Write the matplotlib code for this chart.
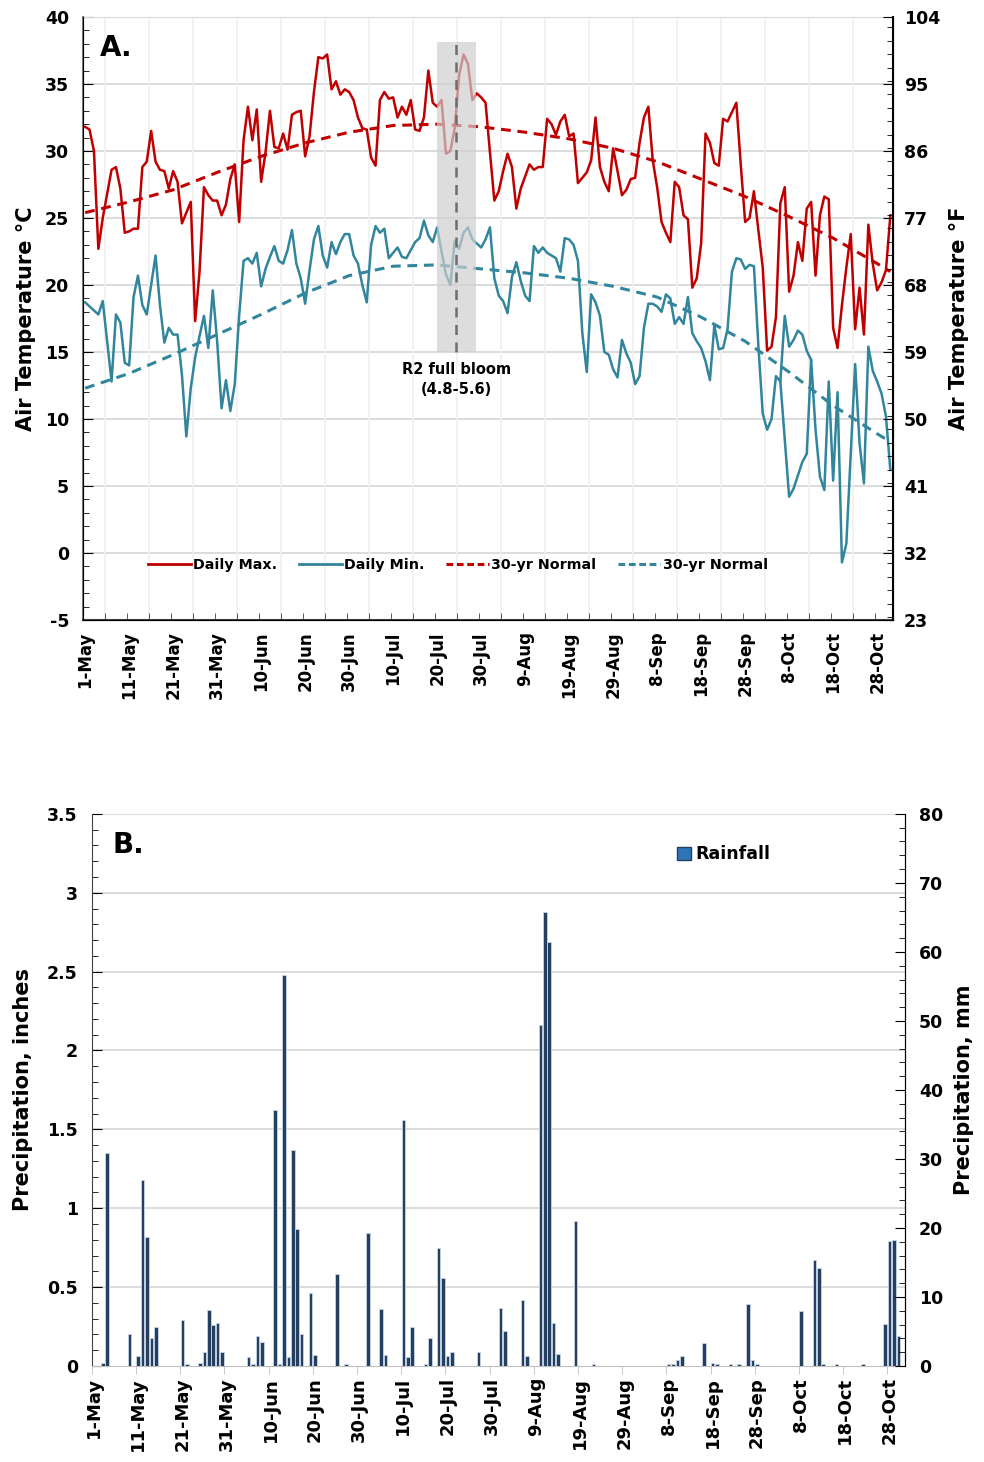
import matplotlib
matplotlib.use("Agg")
import matplotlib.pyplot as plt
import numpy as np
from matplotlib.lines import Line2D
from matplotlib.patches import Rectangle, Patch
from matplotlib.ticker import MultipleLocator, FixedLocator

plt.rcParams['font.family'] = ['DejaVu Sans']
plt.rcParams['font.weight'] = 'bold'
plt.rcParams['axes.unicode_minus'] = False

# day 0 = 1-May ... day 183 = 31-Oct
date_labels = ['1-May', '11-May', '21-May', '31-May', '10-Jun', '20-Jun', '30-Jun',
               '10-Jul', '20-Jul', '30-Jul', '9-Aug', '19-Aug', '29-Aug', '8-Sep',
               '18-Sep', '28-Sep', '8-Oct', '18-Oct', '28-Oct']

t_max = [31.8, 31.6, 30.0, 22.7, 25.0, 26.8, 28.6, 28.8, 27.2, 23.9,
         24.0, 24.2, 24.2, 28.8, 29.2, 31.5, 29.2, 28.6, 28.5, 27.2,
         28.5, 27.7, 24.6, 25.4, 26.2, 17.3, 21.0, 27.3, 26.7, 26.3,
         26.3, 25.2, 26.0, 27.9, 29.0, 24.7, 30.8, 33.3, 30.8, 33.1,
         27.7, 29.9, 33.0, 30.3, 30.2, 31.3, 30.1, 32.7, 32.9, 33.0,
         29.6, 31.1, 34.4, 37.0, 36.9, 37.2, 34.6, 35.2, 34.2, 34.6,
         34.4, 33.8, 32.5, 31.7, 31.6, 29.5, 28.9, 33.8, 34.4, 33.9,
         34.0, 32.5, 33.3, 32.7, 33.8, 31.6, 31.5, 32.5, 36.0, 33.6,
         33.3, 33.8, 29.8, 30.0, 31.7, 35.7, 37.2, 36.5, 33.8, 34.3,
         34.0, 33.6, 29.9, 26.3, 27.0, 28.5, 29.8, 28.8, 25.7, 27.2,
         28.1, 29.0, 28.6, 28.8, 28.8, 32.4, 32.0, 31.2, 32.2, 32.7,
         31.1, 31.3, 27.6, 28.0, 28.4, 29.3, 32.5, 28.8, 27.7, 27.0,
         30.2, 28.5, 26.7, 27.1, 27.9, 28.0, 30.6, 32.5, 33.3, 29.3,
         27.3, 24.7, 23.9, 23.2, 27.7, 27.3, 25.2, 24.9, 19.8, 20.5,
         23.1, 31.3, 30.6, 29.1, 28.9, 32.4, 32.2, 32.9, 33.6, 29.0,
         24.7, 25.0, 27.0, 24.1, 21.3, 15.1, 15.4, 17.6, 26.1, 27.3,
         19.5, 20.7, 23.2, 21.8, 25.7, 26.2, 20.7, 25.2, 26.6, 26.4,
         16.8, 15.3, 18.5, 21.3, 23.8, 16.7, 19.8, 16.3, 24.5, 21.6,
         19.6, 20.2, 21.1, 25.2]

t_min = [18.7, 18.4, 18.1, 17.8, 18.8, 15.8, 12.8, 17.8, 17.2, 14.2,
         14.0, 19.1, 20.7, 18.5, 17.8, 20.0, 22.2, 18.5, 15.7, 16.8,
         16.3, 16.3, 13.3, 8.7, 12.3, 14.6, 16.2, 17.7, 15.3, 19.6,
         15.8, 10.8, 12.9, 10.6, 12.6, 17.7, 21.8, 22.0, 21.6, 22.4,
         19.9, 21.2, 22.1, 22.9, 21.8, 21.6, 22.6, 24.1, 21.6, 20.5,
         18.6, 21.1, 23.4, 24.4, 22.2, 21.3, 23.2, 22.3, 23.2, 23.8,
         23.8, 22.2, 21.6, 20.0, 18.7, 23.0, 24.4, 23.9, 24.2, 22.0,
         22.4, 22.8, 22.1, 22.0, 22.6, 23.2, 23.5, 24.8, 23.7, 23.2,
         24.3, 22.5, 20.8, 20.0, 23.3, 22.7, 23.9, 24.3, 23.4, 23.1,
         22.8, 23.4, 24.3, 20.5, 19.2, 18.8, 17.9, 20.6, 21.7, 20.3,
         19.2, 18.8, 22.9, 22.4, 22.8, 22.4, 22.2, 22.0, 21.0, 23.5,
         23.4, 23.0, 21.8, 16.4, 13.5, 19.3, 18.7, 17.7, 15.0, 14.8,
         13.7, 13.1, 15.9, 14.9, 14.2, 12.6, 13.2, 16.8, 18.6, 18.6,
         18.4, 18.0, 19.3, 19.0, 17.1, 17.6, 17.1, 19.1, 16.4, 15.8,
         15.3, 14.3, 12.9, 17.0, 15.2, 15.3, 16.7, 21.0, 22.0, 21.9,
         21.2, 21.5, 21.4, 15.5, 10.4, 9.2, 10.0, 13.2, 12.8, 8.5,
         4.2, 4.8, 5.8, 6.8, 7.4, 14.4, 9.2, 5.7, 4.7, 12.8,
         5.4, 12.0, -0.7, 0.7, 7.4, 14.1, 8.2, 5.2, 15.4, 13.6,
         12.8, 11.9, 10.2, 6.2]

# second daily-min trace that splits off in early October
t_min_alt_days = [158, 159, 160, 161, 162, 163, 164, 165]
t_min_alt = [12.8, 17.7, 15.4, 15.9, 16.6, 16.3, 15.1, 14.4]

# 30-yr normals, read every 10 days
normal_days = [0, 10, 20, 30, 40, 50, 60, 70, 80, 90, 100, 110, 120, 130, 140, 150, 160, 170, 180, 183]
normal_max = [25.4, 26.2, 27.1, 28.4, 29.6, 30.6, 31.4, 31.9, 32.0, 31.8,
              31.4, 30.9, 30.2, 29.2, 27.9, 26.6, 25.1, 23.5, 21.6, 21.0]
normal_min = [12.3, 13.4, 14.8, 16.3, 17.8, 19.4, 20.7, 21.4, 21.5, 21.2,
              20.9, 20.5, 19.9, 19.1, 17.6, 15.8, 13.5, 11.0, 8.9, 8.3]

# rainfall (inches) on days with rain
rain_days = [2, 3, 8, 10, 11, 12, 13, 14, 20, 21, 24, 25, 26, 27, 28, 29, 35, 36, 37, 38,
             41, 42, 43, 44, 45, 46, 47, 49, 50, 55, 57, 62, 65, 66, 70, 71, 72, 75, 76, 78,
             79, 80, 81, 87, 92, 93, 97, 98, 101, 102, 103, 104, 105, 109, 113, 130, 131, 132, 133, 138,
             140, 141, 144, 146, 148, 149, 150, 160, 163, 164, 165, 168, 174, 179, 180, 181, 182]
rain_in = [0.02, 1.35, 0.20, 0.06, 1.18, 0.82, 0.18, 0.25, 0.29, 0.01, 0.02, 0.09, 0.355, 0.26, 0.27, 0.09, 0.055, 0.01, 0.19, 0.15,
           1.62, 0.01, 2.48, 0.055, 1.37, 0.87, 0.20, 0.465, 0.07, 0.58, 0.01, 0.845, 0.36, 0.07, 1.56, 0.055, 0.25, 0.01, 0.175, 0.75,
           0.56, 0.065, 0.09, 0.09, 0.37, 0.22, 0.42, 0.065, 2.16, 2.88, 2.69, 0.27, 0.075, 0.92, 0.01, 0.01, 0.01, 0.04, 0.065, 0.145,
           0.02, 0.01, 0.01, 0.01, 0.39, 0.04, 0.01, 0.35, 0.67, 0.62, 0.01, 0.01, 0.01, 0.265, 0.79, 0.80, 0.19]

bloom_start, bloom_end, bloom_day = 80, 88.9, 84.3

RED = '#C00000'
TEAL = '#31859C'
GRID = '#D9D9D9'

days = np.arange(len(t_max))
rain = np.zeros(len(t_max))
rain[rain_days] = rain_in

fig = plt.figure(figsize=(9.84, 14.62), dpi=100)

# ---------------- panel A ----------------
ax1 = fig.add_axes([0.0843, 0.5759, 0.8232, 0.4125])
ax1.set_xlim(-0.5, 183.6)
ax1.set_ylim(-5, 40)
for y in range(-5, 41, 5):
    ax1.axhline(y, color=GRID, lw=1.3, zorder=0)
for x in np.arange(4.5, 184, 10):
    ax1.axvline(x, color='#F0F0F0', lw=1.2, zorder=0)

ax1.plot(days, t_max, color=RED, lw=1.8, zorder=3)
ax1.plot(days, t_min, color=TEAL, lw=1.8, zorder=3)
ax1.plot(t_min_alt_days, t_min_alt, color=TEAL, lw=1.8, zorder=3)
ax1.plot(normal_days, normal_max, color=RED, lw=2.2, ls=(0, (3.2, 2.2)), zorder=3)
ax1.plot(normal_days, normal_min, color=TEAL, lw=2.2, ls=(0, (3.2, 2.2)), zorder=3)

ax1.add_patch(Rectangle((bloom_start, 15), bloom_end - bloom_start, 23.1,
                        facecolor='#CFCFCF', alpha=0.7, edgecolor='none', zorder=5))
ax1.plot([bloom_day, bloom_day], [15, 38.1], color='#6E6E6E', lw=1.8, ls=(0, (4, 3)), zorder=6)
ax1.text(bloom_day, 13.7, 'R2 full bloom', ha='center', va='center', fontsize=10.5, fontweight='bold')
ax1.text(bloom_day, 12.2, '(4.8-5.6)', ha='center', va='center', fontsize=10.5, fontweight='bold')
ax1.text(0.021, 0.949, 'A.', transform=ax1.transAxes, fontsize=20, fontweight='heavy', va='center', ha='left')

ax1.set_yticks(range(-5, 41, 5))
ax1.yaxis.set_minor_locator(MultipleLocator(1))
ax1.set_xticks(range(0, 184, 10))
ax1.set_xticklabels(date_labels, rotation=90, fontsize=12, fontweight='bold')
ax1.xaxis.set_minor_locator(FixedLocator(np.arange(4.5, 184, 5)))
ax1.tick_params(axis='x', which='major', length=0, pad=8)
ax1.tick_params(axis='x', which='minor', direction='in', length=5, color='#404040')
ax1.tick_params(axis='y', which='major', direction='in', length=7, labelsize=12.5, pad=10)
ax1.tick_params(axis='y', which='minor', direction='in', length=4)
for lab in ax1.get_yticklabels():
    lab.set_fontweight('bold')
ax1.set_ylabel('Air Temperature \u00b0C', fontsize=15, fontweight='bold', labelpad=6)
ax1.spines['top'].set_color(GRID)
ax1.spines['left'].set_color('#7F7F7F')
ax1.spines['bottom'].set_color('#404040')
ax1.spines['left'].set_linewidth(1.5)
ax1.spines['bottom'].set_linewidth(1.5)

ax1r = ax1.twinx()
ax1r.set_ylim(23, 104)
ax1r.set_yticks(range(23, 105, 9))
ax1r.yaxis.set_minor_locator(MultipleLocator(1.8))
ax1r.tick_params(axis='y', which='major', direction='in', length=7, labelsize=12.5, pad=8)
ax1r.tick_params(axis='y', which='minor', direction='in', length=4)
for lab in ax1r.get_yticklabels():
    lab.set_fontweight('bold')
ax1r.set_ylabel('Air Temperature \u00b0F', fontsize=15, fontweight='bold', labelpad=6)
ax1r.spines['right'].set_linewidth(1.5)
ax1r.spines['top'].set_visible(False)

handles = [Line2D([], [], color=RED, lw=2),
           Line2D([], [], color=TEAL, lw=2),
           Line2D([], [], color=RED, lw=2.2, ls=(0, (2.2, 1.2))),
           Line2D([], [], color=TEAL, lw=2.2, ls=(0, (2.2, 1.2)))]
ax1.legend(handles, ['Daily Max.', 'Daily Min.', '30-yr Normal', '30-yr Normal'],
           loc='center', bbox_to_anchor=(0.463, 0.091), ncol=4, frameon=False,
           handlelength=3.0, handletextpad=0.15, columnspacing=1.5,
           prop={'weight': 'bold', 'size': 10.3})

# ---------------- panel B ----------------
ax2 = fig.add_axes([0.0932, 0.0657, 0.8265, 0.3776])
ax2.set_xlim(-0.5, 183.5)
ax2.set_ylim(0, 3.5)
for y in np.arange(0.5, 3.51, 0.5):
    ax2.axhline(y, color=GRID, lw=1.3, zorder=0)
ax2.bar(days, rain, width=0.8, color='#243F60', edgecolor='#C9D6E6', linewidth=0.6, zorder=3,
        label='Rainfall')
ax2.text(0.025, 0.944, 'B.', transform=ax2.transAxes, fontsize=20, fontweight='heavy', va='center', ha='left')
ax2.legend(handles=[Patch(facecolor='#2E75B6', edgecolor='#243F60', label='Rainfall')],
           loc='center left', bbox_to_anchor=(0.7, 0.927), frameon=False,
           handlelength=0.8, handleheight=0.8, handletextpad=0.3,
           prop={'weight': 'bold', 'size': 12.5})

ax2.set_yticks(np.arange(0, 3.51, 0.5))
ax2.set_yticklabels(['0', '0.5', '1', '1.5', '2', '2.5', '3', '3.5'])
ax2.yaxis.set_minor_locator(MultipleLocator(0.1))
ax2.set_xticks(range(0, 184, 10))
ax2.set_xticklabels(date_labels, rotation=90, fontsize=13, fontweight='bold')
ax2.xaxis.set_minor_locator(FixedLocator(np.arange(-0.5, 184, 10)))
ax2.tick_params(axis='x', which='major', length=0, pad=8)
ax2.tick_params(axis='x', which='minor', direction='out', length=6, color='#BFBFBF')
ax2.tick_params(axis='y', which='major', direction='in', length=7, labelsize=12.5, pad=10)
ax2.tick_params(axis='y', which='minor', direction='in', length=4)
for lab in ax2.get_yticklabels():
    lab.set_fontweight('bold')
ax2.set_ylabel('Precipitation, inches', fontsize=15, fontweight='bold', labelpad=10)
ax2.spines['top'].set_visible(False)
ax2.spines['bottom'].set_color('#BFBFBF')
ax2.spines['left'].set_color('#404040')

ax2r = ax2.twinx()
ax2r.set_ylim(0, 80)
ax2r.set_yticks(range(0, 81, 10))
ax2r.yaxis.set_minor_locator(MultipleLocator(2))
ax2r.tick_params(axis='y', which='major', direction='in', length=7, labelsize=12.5, pad=10)
ax2r.tick_params(axis='y', which='minor', direction='in', length=4)
for lab in ax2r.get_yticklabels():
    lab.set_fontweight('bold')
ax2r.set_ylabel('Precipitation, mm', fontsize=15, fontweight='bold', labelpad=8)
ax2r.spines['top'].set_visible(False)
ax2r.spines['bottom'].set_visible(False)
ax2r.spines['left'].set_visible(False)

fig.savefig('out.png', dpi=100)
